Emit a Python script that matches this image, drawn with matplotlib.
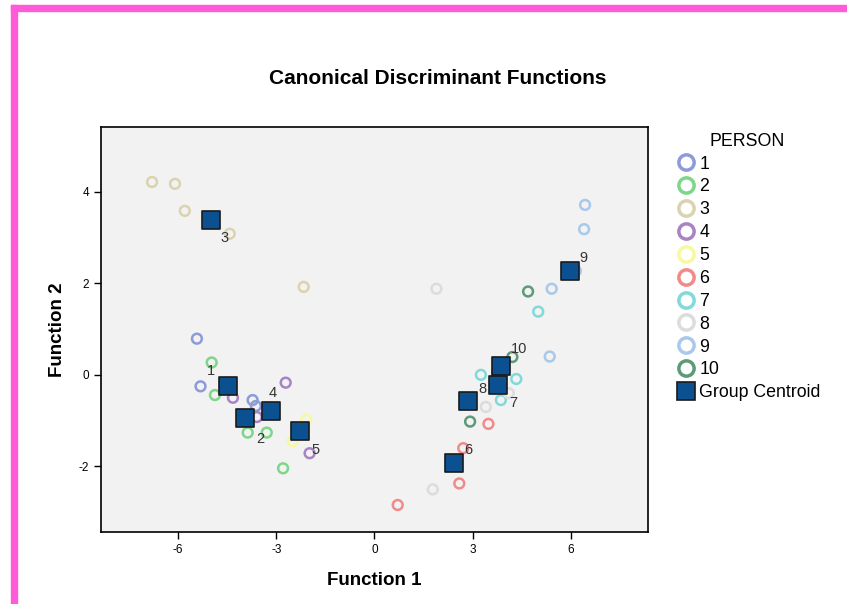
import matplotlib.pyplot as plt
from matplotlib.lines import Line2D
from matplotlib.patches import Rectangle

plt.rcParams['font.family'] = ['Liberation Sans', 'DejaVu Sans']
plt.rcParams['axes.unicode_minus'] = False

# case scores per person (Function 1, Function 2)
person_ids = [1, 2, 3, 4, 5, 6, 7, 8, 9, 10]
scores_f1 = {
    1: [-5.42, -5.31, -3.72, -3.62],
    2: [-4.97, -4.87, -3.87, -3.29, -2.79],
    3: [-6.79, -6.09, -5.79, -4.42, -2.16],
    4: [-4.32, -2.71, -3.59, -1.98],
    5: [-2.08, -2.50, -2.25],
    6: [3.48, 2.71, 2.59, 0.71],
    7: [5.00, 3.25, 4.33, 3.86],
    8: [1.89, 1.78, 3.40, 4.10],
    9: [6.43, 6.40, 6.15, 5.41, 5.35],
    10: [4.69, 4.21, 2.92, 3.75],
}
scores_f2 = {
    1: [0.79, -0.25, -0.55, -0.68],
    2: [0.27, -0.44, -1.26, -1.26, -2.04],
    3: [4.21, 4.17, 3.58, 3.08, 1.92],
    4: [-0.50, -0.17, -0.92, -1.71],
    5: [-0.98, -1.45, -1.20],
    6: [-1.07, -1.60, -2.37, -2.84],
    7: [1.38, 0.00, -0.09, -0.55],
    8: [1.88, -2.50, -0.70, -0.40],
    9: [3.71, 3.18, 2.27, 1.88, 0.40],
    10: [1.82, 0.39, -1.02, 0.05],
}
centroid_f1 = [-4.48, -3.96, -5.00, -3.15, -2.28, 2.44, 3.78, 2.86, 5.96, 3.86]
centroid_f2 = [-0.24, -0.94, 3.38, -0.79, -1.22, -1.92, -0.22, -0.58, 2.27, 0.20]

colors = ['#8d9bd8', '#7ed68a', '#d9d3b0', '#a884c2', '#f8f8a0',
          '#f28a8a', '#82d9d9', '#dcdcdc', '#a9c9ec', '#5e9a78']
label_offsets = [(-12, 11), (11, -15), (10, -13), (1, 13), (11, -14),
                 (10, 9), (11, -13), (10, 9), (10, 9), (13, 12)]

fig = plt.figure(figsize=(8.47, 6.04), dpi=100)
ax = fig.add_axes([0.1192, 0.1192, 0.6458, 0.6705])
ax.set_facecolor('#f2f2f2')

for pid, col in zip(person_ids, colors):
    ax.scatter(scores_f1[pid], scores_f2[pid], s=50, facecolors='none',
               edgecolors=col, linewidths=1.8, zorder=3)

ax.scatter(centroid_f1, centroid_f2, s=170, marker='s', color='#0b5191',
           edgecolors='#1a1a1a', linewidths=1.2, zorder=4)

for pid, cx, cy, off in zip(person_ids, centroid_f1, centroid_f2, label_offsets):
    ax.annotate(str(pid), (cx, cy), xytext=off, textcoords='offset points',
                ha='center', va='center', fontsize=10.5, color='#333333', zorder=5)

ax.set_xlim(-8.35, 8.35)
ax.set_ylim(-3.43, 5.41)
ax.set_xticks([-6, -3, 0, 3, 6])
ax.set_yticks([-2, 0, 2, 4])
ax.tick_params(direction='out', length=5, width=1, labelsize=8.5)
for sp in ax.spines.values():
    sp.set_linewidth(1.2)

ax.set_xlabel('Function 1', fontsize=13.5, fontweight='bold', labelpad=12)
ax.set_ylabel('Function 2', fontsize=13.5, fontweight='bold', labelpad=9)
fig.text(0.517, 0.870, 'Canonical Discriminant Functions', ha='center',
         va='center', fontsize=15, fontweight='bold')

handles = [Line2D([], [], marker='o', linestyle='none', markersize=11,
                  markerfacecolor='none', markeredgecolor=c, markeredgewidth=2.5)
           for c in colors]
handles.append(Line2D([], [], marker='s', linestyle='none', markersize=13,
                      markerfacecolor='#0b5191', markeredgecolor='#1a1a1a',
                      markeredgewidth=1.2))
labels = [str(p) for p in person_ids] + ['Group Centroid']
leg = ax.legend(handles, labels, title='PERSON', loc='upper left',
                bbox_to_anchor=(0.787, 0.792), bbox_transform=fig.transFigure,
                frameon=False, fontsize=12.8, title_fontsize=12.8,
                handletextpad=0.05, labelspacing=0.33, borderaxespad=0,
                handlelength=1.4)

# pink border of the output window
fig.patches.append(Rectangle((11 / 847, 1 - 11 / 604), 1, 6 / 604,
                             transform=fig.transFigure, color='#ff5ad8'))
fig.patches.append(Rectangle((11 / 847, 0), 6 / 847, 1 - 5 / 604,
                             transform=fig.transFigure, color='#ff5ad8'))

fig.savefig('out.png', dpi=100)
